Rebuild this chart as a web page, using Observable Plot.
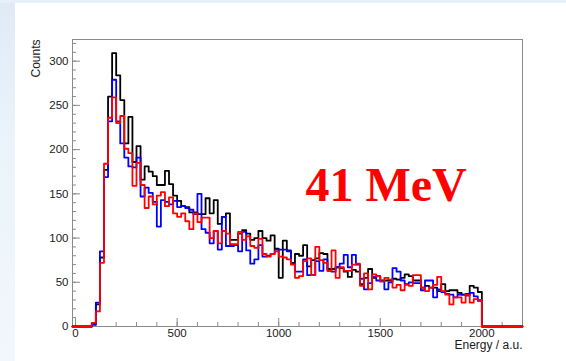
<!DOCTYPE html>
<html>
<head>
<meta charset="utf-8">
<script src="https://cdn.jsdelivr.net/npm/d3@7"></script>
<script src="https://cdn.jsdelivr.net/npm/@observablehq/plot@0.6"></script>
<style>
html, body { margin: 0; padding: 0; }
body { width: 566px; height: 361px; overflow: hidden; background: #ffffff; position: relative; }
#bgLeft { position: absolute; left: 0; top: 0; width: 15px; height: 361px; background: linear-gradient(to bottom, #dfeaf6, #eaf3fb 35%, #f1f7fd); }
#bgTop { position: absolute; left: 0; top: 0; width: 566px; height: 3px; background: #e6f0fa; }
#chart { position: absolute; left: 0; top: 0; }
</style>
</head>
<body>
<div id="bgLeft"></div>
<div id="bgTop"></div>
<div id="chart"></div>
<script>
// Histogram bins: 20 a.u. wide, starting at 0 (bins 0..1980); empty beyond 2000
const binWidth = 20;
const xRange = [-15, 2200];
const yRange = [0, 324.5];

const black = [0,0,0,0,3,25,78,177,260,309, 284,256,207,237,186,204,166,181,175,170,
  160,160,176,161,148,142,136,135,129,129, 127,127,145,128,143,116,124,128,98,98,
  105,109,105,98,100,108,100,97,103,88, 55,97,86,72,82,80,92,68,75,77,
  83,82,65,65,67,66,62,56,64,62, 48,55,65,55,57,52,52,52,54,53,
  55,59,57,52,52,44,46,44,44,40, 48,40,41,41,38,36,37,46,44,39];

const blue = [0,0,0,0,2,27,85,169,232,279, 232,207,191,181,180,191,147,157,151,141,
  113,143,141,138,142,135,136,134,132,127, 150,110,106,94,108,87,124,91,91,92,
  85,107,86,71,76,92,79,80,82,87, 87,87,85,71,62,62,76,58,58,74,
  63,76,63,62,67,71,81,67,81,70, 54,42,49,56,52,51,42,50,66,62,
  52,48,50,49,49,41,52,52,33,42, 39,37,36,33,36,36,35,38,34,29];

const red = [0,0,0,0,4,17,72,184,236,259, 230,238,201,196,159,185,160,134,147,138,
  148,152,136,146,128,124,128,119,110,128, 118,123,123,100,108,94,108,105,93,93,
  107,98,102,91,89,99,82,79,82,85, 79,78,76,70,55,57,74,77,58,90,
  75,72,63,86,55,67,63,63,70,71, 46,60,42,59,57,51,55,53,44,47,
  41,47,46,58,58,44,40,44,47,56, 40,36,25,33,33,27,36,27,31,30];

const seriesColors = ["#000000", "#0000ff", "#ff0000"];

function steps(values) {
  const pts = [{x: xRange[0], y: 0}];
  values.forEach((v, i) => pts.push({x: i * binWidth, y: v}));
  pts.push({x: values.length * binWidth, y: 0});
  pts.push({x: xRange[1], y: 0});
  return pts;
}

const axisColor = "#8a8a8a";
const font = "'Liberation Sans', Arial, Helvetica, sans-serif";

const chart = Plot.plot({
  width: 566,
  height: 361,
  marginLeft: 72,
  marginRight: 44,
  marginTop: 39,
  marginBottom: 35,
  style: {background: "transparent", fontFamily: font, fontSize: "11.5px", color: "#1a1a1a"},
  x: {domain: xRange, axis: null},
  y: {domain: yRange, axis: null},
  marks: [
    Plot.frame({stroke: axisColor, strokeWidth: 1}),
    // y ticks (inward)
    Plot.axisY({ticks: d3.range(0, 321, 10), tickSize: -4, tickFormat: () => "", stroke: axisColor, label: null}),
    Plot.axisY({ticks: d3.range(0, 301, 50), tickSize: -8, tickFormat: () => "", stroke: axisColor, label: null}),
    Plot.axisY({ticks: d3.range(0, 301, 50), tickSize: 0, tickPadding: 4, tickFormat: d3.format("d"), fill: "#1a1a1a", label: null}),
    // x ticks (inward)
    Plot.axisX({ticks: d3.range(0, 2201, 100), tickSize: -4, tickFormat: () => "", stroke: axisColor, label: null}),
    Plot.axisX({ticks: d3.range(0, 2001, 500), tickSize: -8, tickFormat: () => "", stroke: axisColor, label: null}),
    Plot.axisX({ticks: d3.range(0, 2001, 500), tickSize: 0, tickPadding: 2, tickFormat: d3.format("d"), fill: "#1a1a1a", label: null}),
    // histograms
    Plot.line(steps(black), {x: "x", y: "y", curve: "step-after", stroke: seriesColors[0], strokeWidth: 1.8}),
    Plot.line(steps(blue), {x: "x", y: "y", curve: "step-after", stroke: seriesColors[1], strokeWidth: 1.8}),
    Plot.line(steps(red), {x: "x", y: "y", curve: "step-after", stroke: seriesColors[2], strokeWidth: 1.8}),
    // axis titles
    Plot.text(["Counts"], {frameAnchor: "top-left", rotate: -90, textAnchor: "end", dx: -41, fontSize: 12, fill: "#1a1a1a"}),
    Plot.text(["Energy / a.u."], {frameAnchor: "bottom-right", textAnchor: "end", dy: 22.5, fontSize: 12, fill: "#1a1a1a"}),
    // annotation
    Plot.text(["41 MeV"], {frameAnchor: "top-left", textAnchor: "start", lineAnchor: "bottom", dx: 233, dy: 161,
      fontSize: 48, fontWeight: "bold", fontFamily: "'Liberation Serif', 'Times New Roman', serif", fill: "#ff0000"})
  ]
});
document.getElementById("chart").appendChild(chart);
</script>
</body>
</html>
